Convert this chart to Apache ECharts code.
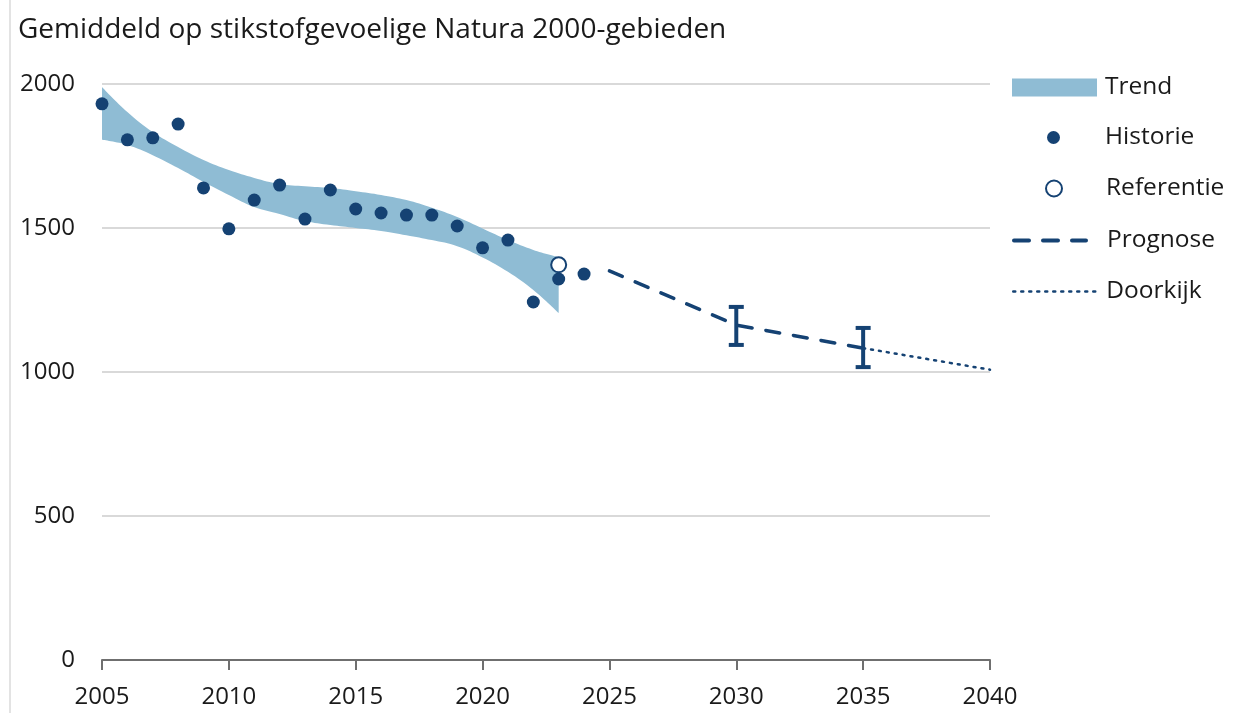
<!DOCTYPE html>
<html>
<head>
<meta charset="utf-8">
<script src="https://cdn.jsdelivr.net/npm/echarts@6/dist/echarts.min.js"></script>
<style>
  html, body { margin: 0; padding: 0; background: #fff; }
  #chart { width: 1236px; height: 713px; }
  .edge { position: absolute; left: 9px; top: 0; width: 2px; height: 713px; background: #e3e3e3; }
</style>
</head>
<body>
<div class="edge"></div>
<div id="chart"></div>
<script>
const histYears = [2005, 2006, 2007, 2008, 2009, 2010, 2011, 2012, 2013, 2014, 2015, 2016, 2017, 2018, 2019, 2020, 2021, 2022, 2023, 2024];
const histValues = [1931, 1806, 1813, 1861, 1639, 1497, 1597, 1649, 1531, 1632, 1566, 1552, 1545, 1545, 1507, 1431, 1458, 1243, 1323, 1340];

const trendYears = [2005, 2006, 2007, 2008, 2009, 2010, 2011, 2012, 2013, 2014, 2015, 2016, 2017, 2018, 2019, 2020, 2021, 2022, 2023];
const trendLower = [1806, 1788, 1753, 1708, 1660, 1615, 1573, 1549, 1524, 1510, 1500, 1490, 1475, 1458, 1437, 1398, 1348, 1285, 1205];
const trendUpper = [1990, 1903, 1833, 1781, 1736, 1701, 1674, 1653, 1645, 1639, 1628, 1615, 1597, 1570, 1538, 1498, 1458, 1424, 1399];

const refYear = 2023;
const refValue = 1372;

const prognoseYears = [2025, 2030, 2035];
const prognoseValues = [1351, 1163, 1083];

const doorkijkYears = [2035, 2040];
const doorkijkValues = [1083, 1008];

// [jaar, ondergrens, bovengrens]
const errorBars = [[2030, 1094, 1226], [2035, 1017, 1153]];

const xTicks = { min: 2005, max: 2040, step: 5 };
const yTicks = { min: 0, max: 2000, step: 500 };

const navy = "#154273";
const bandColor = "#8fbcd4";
const textColor = "#1a1a1a";
const font = "Open Sans";

const plotLeft = 102, plotWidth = 888, plotTop = 84, plotBottom = 53;
// het trendvlak loopt van 2005 t/m 2023: eigen grid over dat deel van de x-as
const trendWidth = plotWidth * (trendYears[trendYears.length - 1] - xTicks.min) / (xTicks.max - xTicks.min);

const pairs = (xs, ys) => xs.map((x, i) => [x, ys[i]]);

const legendText = { fontSize: 24.5, color: textColor, fontFamily: font };
function legendItem(name, center, iconLeft, iconWidth, iconHeight, extra) {
  return {
    orient: "vertical",
    left: iconLeft,
    top: center - 12,
    padding: 0,
    itemWidth: iconWidth,
    itemHeight: iconHeight,
    selectedMode: false,
    textStyle: { ...legendText, padding: [0, 0, 0, 1105 - (iconLeft + iconWidth + 5)] },
    data: [{ name, ...extra }]
  };
}

const chart = echarts.init(document.getElementById("chart"));
chart.setOption({
  animation: false,
  textStyle: { fontFamily: font },
  title: {
    text: "Gemiddeld op stikstofgevoelige Natura 2000-gebieden",
    left: 13,
    top: 11,
    textStyle: { fontSize: 28, fontWeight: "normal", color: textColor, fontFamily: font }
  },
  legend: [
    legendItem("Trend", 87, 1012, 85, 18, { icon: "rect", itemStyle: { color: bandColor } }),
    legendItem("Historie", 137, 1047, 13, 13, { icon: "circle", itemStyle: { color: navy } }),
    legendItem("Referentie", 188, 1045, 16, 16, { icon: "circle", itemStyle: { color: "#fff", borderColor: navy, borderWidth: 2 } }),
    legendItem("Prognose", 240, 1012, 72, 14, {
      itemStyle: { opacity: 0 },
      lineStyle: { color: navy, width: 4, type: [15, 14], cap: "round" }
    }),
    legendItem("Doorkijk", 291, 1012, 86, 14, {
      itemStyle: { opacity: 0 },
      lineStyle: { color: navy, width: 2.5, type: [2, 6], cap: "round" }
    })
  ],
  grid: [
    { left: plotLeft, width: plotWidth, top: plotTop, bottom: plotBottom },
    { left: plotLeft, width: trendWidth, top: plotTop, bottom: plotBottom }
  ],
  xAxis: [
    {
      type: "value",
      min: xTicks.min,
      max: xTicks.max,
      interval: xTicks.step,
      axisLine: { show: true, lineStyle: { color: "#6f6f6f", width: 2 } },
      axisTick: { show: true, length: 10, lineStyle: { color: "#6f6f6f", width: 2 } },
      axisLabel: { fontSize: 24, color: textColor, margin: 25, formatter: v => String(v) },
      splitLine: { show: false }
    },
    {
      type: "category",
      gridIndex: 1,
      data: trendYears.map(String),
      boundaryGap: false,
      show: false
    }
  ],
  yAxis: [
    {
      type: "value",
      min: yTicks.min,
      max: yTicks.max,
      interval: yTicks.step,
      axisLine: { show: false },
      axisTick: { show: false },
      axisLabel: { fontSize: 24, color: textColor, margin: 27, formatter: v => String(v) },
      splitLine: { show: true, lineStyle: { color: "#d9d9d9", width: 2 } }
    },
    {
      type: "value",
      gridIndex: 1,
      min: yTicks.min,
      max: yTicks.max,
      show: false,
      splitLine: { show: false }
    }
  ],
  series: [
    {
      name: "trendBase",
      type: "line",
      xAxisIndex: 1,
      yAxisIndex: 1,
      stack: "trend",
      smooth: 0.4,
      symbol: "none",
      lineStyle: { opacity: 0 },
      data: trendLower,
      silent: true,
      z: 1
    },
    {
      name: "Trend",
      type: "line",
      xAxisIndex: 1,
      yAxisIndex: 1,
      stack: "trend",
      smooth: 0.4,
      symbol: "none",
      color: bandColor,
      lineStyle: { width: 0, opacity: 0 },
      areaStyle: { color: bandColor, opacity: 1 },
      data: trendUpper.map((u, i) => u - trendLower[i]),
      z: 1
    },
    {
      name: "Prognose",
      type: "line",
      symbol: "none",
      color: navy,
      lineStyle: { color: navy, width: 3.5, type: [14, 14], cap: "round" },
      data: pairs(prognoseYears, prognoseValues),
      z: 2
    },
    {
      name: "Doorkijk",
      type: "line",
      symbol: "none",
      color: navy,
      lineStyle: { color: navy, width: 2.5, type: [2, 6], cap: "round" },
      data: pairs(doorkijkYears, doorkijkValues),
      z: 2
    },
    {
      name: "errorbars",
      type: "custom",
      renderItem: (params, api) => {
        const x = api.value(0);
        const lo = api.coord([x, api.value(1)]);
        const hi = api.coord([x, api.value(2)]);
        const w = 7.5;
        const style = { stroke: navy, lineWidth: 4 };
        return {
          type: "group",
          children: [
            { type: "line", shape: { x1: lo[0], y1: lo[1], x2: hi[0], y2: hi[1] }, style },
            { type: "line", shape: { x1: hi[0] - w, y1: hi[1], x2: hi[0] + w, y2: hi[1] }, style },
            { type: "line", shape: { x1: lo[0] - w, y1: lo[1], x2: lo[0] + w, y2: lo[1] }, style }
          ]
        };
      },
      data: errorBars,
      z: 3
    },
    {
      name: "Historie",
      type: "scatter",
      symbol: "circle",
      symbolSize: 13,
      itemStyle: { color: navy, opacity: 1 },
      data: pairs(histYears, histValues),
      z: 4
    },
    {
      name: "Referentie",
      type: "scatter",
      symbol: "circle",
      symbolSize: 15,
      itemStyle: { color: "#fff", borderColor: navy, borderWidth: 2, opacity: 1 },
      data: [[refYear, refValue]],
      z: 5
    }
  ]
});
</script>
</body>
</html>
